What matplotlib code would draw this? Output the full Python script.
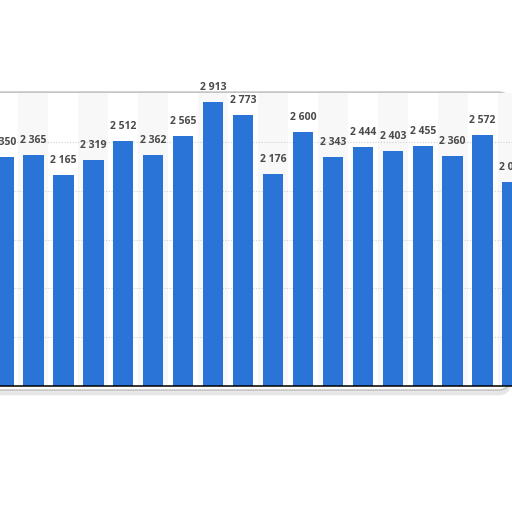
import matplotlib
matplotlib.use("Agg")
import matplotlib.pyplot as plt
from matplotlib.patches import FancyBboxPatch

# values (left and right bars are cut off)
values = [2350, 2365, 2165, 2319, 2512, 2362, 2565, 2913, 2773,
          2176, 2600, 2343, 2444, 2403, 2455, 2360, 2572, 2090]
grid_values = [500, 1000, 1500, 2000, 2500]

bar_color = "#2a74d8"
label_color = "#4a4a4a"


def fmt(v):
    return "{:,}".format(v).replace(",", " ")


def main():
    fig = plt.figure(figsize=(5.12, 5.12), dpi=100)
    fig.patch.set_facecolor("white")

    # rounded frame around the plot area, with a soft shadow
    shadow = FancyBboxPatch((-0.03, 0.232), 1.024, 0.585,
                            boxstyle="round,pad=0,rounding_size=0.02",
                            transform=fig.transFigure, facecolor="none",
                            edgecolor="#e6e6e6", linewidth=3, zorder=-2)
    fig.patches.append(shadow)
    frame = FancyBboxPatch((-0.03, 0.238), 1.024, 0.582,
                           boxstyle="round,pad=0,rounding_size=0.02",
                           transform=fig.transFigure, facecolor="white",
                           edgecolor="#c4c4c4", linewidth=1.2, zorder=-1)
    fig.patches.append(frame)

    ax = fig.add_axes([0, 0.246, 1, 0.572])
    ax.set_zorder(1)
    ax.set_facecolor("none")
    x = list(range(len(values)))

    # alternating column bands
    for i in x:
        if i % 2 == 1:
            ax.axvspan(i - 0.5, i + 0.5, color="#f8f8f8", zorder=0,
                       linewidth=0)
    for g in grid_values:
        ax.axhline(g, color="#d2d2d2", linestyle=(0, (1, 1.5)),
                   linewidth=0.8, zorder=1)

    ax.bar(x, values, width=0.68, color=bar_color, zorder=2)
    for i, v in zip(x, values):
        ax.annotate(fmt(v), (i, v), xytext=(0, 6.5),
                    textcoords="offset points", ha="center", va="bottom",
                    fontsize=7.5, fontweight="bold", family="Open Sans",
                    color=label_color, zorder=3, annotation_clip=False)

    ax.set_xlim(-0.1167, 16.983)
    ax.set_ylim(0, 3000)
    for side in ["top", "left", "right"]:
        ax.spines[side].set_visible(False)
    ax.spines["bottom"].set_color("black")
    ax.spines["bottom"].set_linewidth(1.1)
    ax.spines["bottom"].set_zorder(4)
    ax.set_xticks([])
    ax.set_yticks([])

    fig.savefig("out.png", dpi=100)


if __name__ == "__main__":
    main()
